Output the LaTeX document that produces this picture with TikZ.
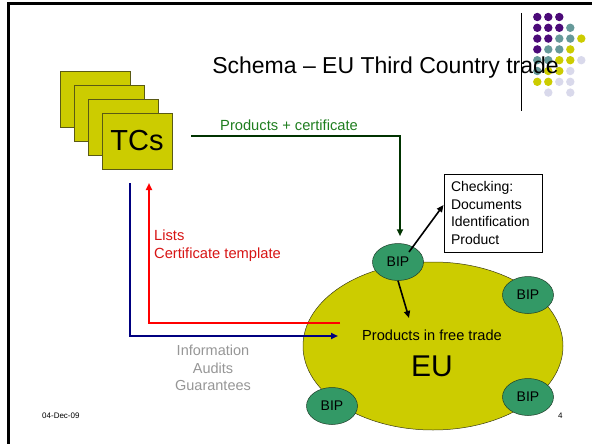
\documentclass[tikz,border=0pt]{standalone}
\usepackage{fontspec}
\setmainfont{Liberation Sans}
\usetikzlibrary{arrows.meta,shapes.geometric,shadows}

\definecolor{tcyellow}{RGB}{204,204,0}
\definecolor{bipgreen}{RGB}{51,153,102}
\definecolor{prodgreen}{RGB}{0,51,0}
\definecolor{prodtext}{RGB}{30,125,30}
\definecolor{listsred}{RGB}{255,0,0}
\definecolor{liststext}{RGB}{215,20,20}
\definecolor{infonavy}{RGB}{0,0,128}
\definecolor{infogray}{RGB}{150,150,150}
\definecolor{dotpurple}{RGB}{75,10,120}
\definecolor{dotteal}{RGB}{102,153,153}
\definecolor{dotlav}{RGB}{217,217,235}

\tikzset{
  tcbox/.style={draw={rgb,255:red,90;green,90;blue,20}, fill=tcyellow, line width=0.6,
    minimum width=70, minimum height=56, inner sep=0,
    general shadow={fill=black!35, shadow xshift=1.2pt, shadow yshift=-1.2pt}},
  bipnode/.style={ellipse, draw={rgb,255:red,30;green,60;blue,40}, fill=bipgreen, line width=0.5,
    minimum width=51, minimum height=37, inner sep=0, font=\fontsize{14}{16}\selectfont},
  tip/.style={-{Triangle[length=7pt,width=6pt]}}
}

\begin{document}
\begin{tikzpicture}[x=1pt,y=1pt,yscale=-1,xscale=1]
\useasboundingbox (0,0) rectangle (592,444);

%Frame
\draw [line width=3] (592,4) -- (8,4) -- (8,444) ;
%Straight Lines (beside the dots)
\draw [line width=0.8] (521,13) -- (521,111) ;

%Dots
\foreach \col/\row/\clr in {0/0/dotpurple,1/0/dotpurple,2/0/dotpurple,
  0/1/dotpurple,1/1/dotpurple,2/1/dotpurple,3/1/dotteal,
  0/2/dotpurple,1/2/dotpurple,2/2/dotteal,3/2/dotteal,4/2/tcyellow,
  0/3/dotpurple,1/3/dotteal,2/3/dotteal,3/3/tcyellow,
  0/4/dotteal,1/4/dotteal,2/4/tcyellow,3/4/tcyellow,4/4/dotlav,
  0/5/dotteal,1/5/tcyellow,2/5/tcyellow,3/5/dotlav,
  0/6/tcyellow,1/6/tcyellow,2/6/dotlav,3/6/dotlav,
  1/7/dotlav,3/7/dotlav}
  \fill [\clr] (537.3+11*\col,17+10.8*\row) circle (4.2) ;

% Text Node
\node (title) [anchor=base, inner sep=0, font=\fontsize{23}{26}\selectfont] at (385.5,74) {Schema -- EU Third Country trade};

%Shape: TCs stack
\node (tcA) [tcbox] at (95,99) {};
\node (tcB) [tcbox] at (109,113) {};
\node (tcC) [tcbox] at (123,127) {};
\node (tcs) [tcbox, font=\fontsize{29}{32}\selectfont] at (137,141) {TCs};

%Shape: Ellipse EU
\node (eu) [ellipse, draw={rgb,255:red,60;green,60;blue,20}, fill=tcyellow, line width=0.5,
  minimum width=260, minimum height=168, inner sep=0] at (433,346) {};

%Shape: BIP
\node (bipA) [bipnode] at (398,262) {BIP};
\node (bipB) [bipnode] at (528,295) {BIP};
\node (bipC) [bipnode] at (528,397) {BIP};
\node (bipD) [bipnode] at (332,406) {BIP};

% Text Node
\node (freetrade) [inner sep=0, font=\fontsize{14.6}{17}\selectfont] at (432,335) {Products in free trade};
% Text Node
\node (eulabel) [inner sep=0, font=\fontsize{30}{34}\selectfont] at (432,366) {EU};

% Text Node
\node (check) [draw, line width=1, fill=white, text width=84, inner xsep=7, inner ysep=0,
  minimum height=78, align=left, font=\fontsize{14}{17.7}\selectfont] at (493,213)
  {Checking:\\Documents\\Identification\\Product};

%Coordinates for the connectors
\coordinate (prodstart) at (191,136);
\coordinate (infostart) at (130,183);
\coordinate (infoend) at (338,336);
\coordinate (listsstart) at (340,323);
\coordinate (listsend) at (149,183);
\coordinate (chkfrom) at (409,252);
\coordinate (freetop) at (409,318);

%Straight Lines
\draw [tip, prodgreen, line width=2, shorten >=7] (prodstart) -| ([xshift=2pt]bipA.north) ;
%Straight Lines
\draw [tip, infonavy, line width=2.5] (infostart) |- (infoend) ;
%Straight Lines
\draw [tip, listsred, line width=2.5] (listsstart) -| (listsend) ;
%Straight Lines
\draw [tip, line width=1.6] (chkfrom) -- ([yshift=-8pt]check.west) ;
%Straight Lines
\draw [tip, line width=1.6] (bipA.south) -- (freetop) ;

% Text Node
\node (prodlabel) [anchor=base west, inner sep=0, text=prodtext, font=\fontsize{14.7}{17}\selectfont] at (220,130) {Products + certificate};
% Text Node
\node (listslabel) [anchor=west, inner sep=0, align=left, text=liststext, font=\fontsize{14.7}{18}\selectfont] at (154,246) {Lists\\Certificate template};
% Text Node
\node (infolabel) [inner sep=0, align=center, text=infogray, font=\fontsize{14.5}{17.5}\selectfont] at (213,368) {Information\\Audits\\Guarantees};

% Text Node
\node (date) [anchor=base west, inner sep=0, font=\fontsize{8}{9}\selectfont] at (42,418) {04-Dec-09};
% Text Node
\node (pageno) [anchor=base west, inner sep=0, font=\fontsize{8}{9}\selectfont] at (558,418) {4};

\end{tikzpicture}
\end{document}
